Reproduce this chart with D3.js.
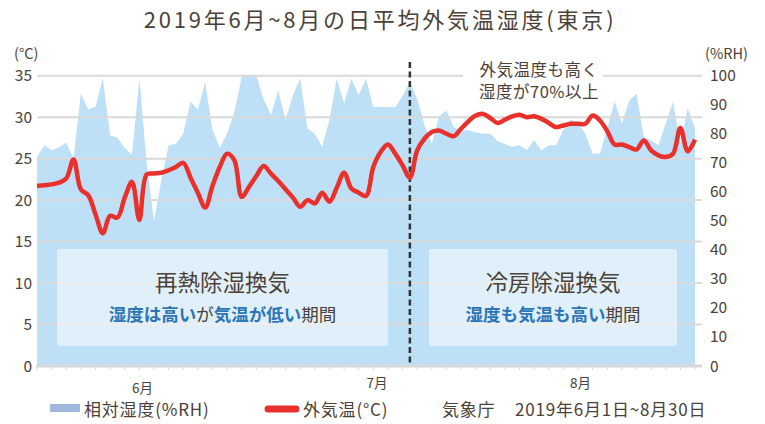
<!DOCTYPE html>
<html>
<head>
<meta charset="utf-8">
<script src="https://cdn.jsdelivr.net/npm/d3@7"></script>
<style>
body { margin: 0; background: #fff; }
text { font-family: "Noto Sans CJK JP", "Noto Sans", sans-serif; fill: #4b4139; }
</style>
</head>
<body>
<script>
"use strict";

// daily mean values, 2019-06-01 .. 2019-08-30 (Tokyo)
var temperature = [
    21.7, 21.8, 21.9, 22.1, 22.6, 24.9, 21.3, 20.6, 18.3, 16.0,
    18.1, 17.9, 20.3, 22.2, 17.6, 23.1, 23.2, 23.3, 23.6, 24.0,
    24.5, 22.7, 20.9, 19.1, 21.7, 24.0, 25.6, 24.8, 20.4, 21.6,
    22.9, 24.1, 23.2, 22.3, 21.3, 20.3, 19.2, 20.0, 19.6, 20.9,
    19.8, 21.5, 23.3, 21.4, 20.9, 20.5, 24.0, 25.8, 26.7, 25.6,
    24.2, 22.7, 26.0, 27.4, 28.2, 28.4, 28.0, 27.7, 28.6, 29.5,
    30.2, 30.4, 29.9, 29.3, 29.7, 30.1, 30.3, 30.0, 30.1, 29.8,
    29.3, 28.8, 29.0, 29.2, 29.2, 29.2, 30.2, 29.6, 28.3, 26.7,
    26.7, 26.4, 26.1, 27.2, 26.0, 25.4, 25.2, 25.6, 28.7, 25.9,
    27.3
];
var humidity = [
    72, 76, 74.3, 75.3, 77, 71.5, 93.8, 88.4, 89.2, 99.2,
    79.5, 78.6, 75.1, 72.8, 99, 70, 50, 64, 76, 76.6,
    80, 91, 88.3, 97.8, 81.5, 75.2, 80, 87.5, 99.6, 100,
    100, 92, 86.4, 95, 84.7, 93.3, 99, 81.8, 80, 75.5,
    84.7, 99, 90.4, 99, 93.3, 99, 89.2, 89.2, 89.2, 89.2,
    93, 98, 92, 83, 76.6, 86, 88, 82.3, 81.2, 81.2,
    80.5, 80, 80, 77.5, 76.5, 75.5, 76, 74.3, 77.8, 74.3,
    76, 76, 81.3, 85, 83.5, 80, 73.2, 73.2, 81.8, 91.2,
    83.5, 91.5, 93.8, 78.9, 77.8, 76, 83.5, 91, 76.6, 88.8,
    82
];
var tempTicks = [0, 5, 10, 15, 20, 25, 30, 35];
var humTicks = [0, 10, 20, 30, 40, 50, 60, 70, 80, 90, 100];
var monthLabels = ["6月", "7月", "8月"];
var monthLabelDates = ["2019-06-15T10:00", "2019-07-17T12:00", "2019-08-14T08:00"];
var rainyEndDate = "2019-07-22";

var startDate = new Date(2019, 5, 1);
var dates = d3.timeDay.range(startDate, new Date(2019, 7, 31));

var width = 765, height = 424;
var plot = {left: 37, right: 695, gridRight: 702, top: 75.7, bottom: 366};

var svg = d3.select("body").append("svg")
    .attr("width", width)
    .attr("height", height);

var parse = d3.isoParse;
var x = d3.scaleTime()
    .domain([dates[0], dates[dates.length - 1]])
    .range([plot.left, plot.right]);
var yT = d3.scaleLinear().domain([0, 35]).range([plot.bottom, plot.top]);
var yH = d3.scaleLinear().domain([0, 100]).range([plot.bottom, plot.top]);

// humidity area (secondary axis)
var area = d3.area()
    .x(function(d, i) { return x(dates[i]); })
    .y0(yH(0))
    .y1(function(d) { return yH(Math.min(d, 100)); });
svg.append("path")
    .datum(humidity)
    .attr("d", area)
    .attr("fill", "#bee0f7");

// gridlines
svg.append("g").selectAll("line")
    .data(tempTicks.slice(1))
    .enter().append("line")
    .attr("x1", plot.left).attr("x2", plot.gridRight)
    .attr("y1", function(d) { return yT(d); })
    .attr("y2", function(d) { return yT(d); })
    .attr("stroke", "#d9d9d9")
    .attr("stroke-width", 2);

// x axis line and small ticks every 2 days
svg.append("line")
    .attr("x1", plot.left - 1).attr("x2", plot.gridRight)
    .attr("y1", yT(0)).attr("y2", yT(0))
    .attr("stroke", "#d9d9d9")
    .attr("stroke-width", 3);
svg.append("g").selectAll("line")
    .data(dates.filter(function(d, i) { return i % 2 === 0; }))
    .enter().append("line")
    .attr("x1", function(d) { return x(d); })
    .attr("x2", function(d) { return x(d); })
    .attr("y1", yT(0) + 1).attr("y2", yT(0) + 4)
    .attr("stroke", "#d9d9d9")
    .attr("stroke-width", 1);

// month labels
svg.append("g").selectAll("text")
    .data(monthLabels)
    .enter().append("text")
    .attr("x", function(d, i) { return x(parse(monthLabelDates[i])); })
    .attr("y", function(d, i) { return i === 0 ? 393 : 388; })
    .attr("text-anchor", "middle")
    .attr("font-size", 13.5)
    .text(function(d) { return d; });

// period boxes
var boxes = [
    {x0: 57, x1: 388, title: "再熱除湿換気",
     parts: [["湿度は高い", true], ["が", false], ["気温が低い", true], ["期間", false]]},
    {x0: 429, x1: 677, title: "冷房除湿換気",
     parts: [["湿度も気温も高い", true], ["期間", false]]}
];
boxes.forEach(function(b) {
    svg.append("rect")
        .attr("x", b.x0).attr("y", 249)
        .attr("width", b.x1 - b.x0).attr("height", 97)
        .attr("rx", 2)
        .attr("fill", "#fff")
        .attr("fill-opacity", 0.52);
    var cx = (b.x0 + b.x1) / 2;
    svg.append("text")
        .attr("x", cx).attr("y", 291)
        .attr("text-anchor", "middle")
        .attr("font-size", 22.5)
        .text(b.title);
    var t = svg.append("text")
        .attr("x", cx).attr("y", 321)
        .attr("text-anchor", "middle")
        .attr("font-size", 17.5);
    b.parts.forEach(function(p) {
        t.append("tspan")
            .attr("font-weight", p[1] ? "bold" : "normal")
            .style("fill", p[1] ? "#2e75b6" : "#4b4139")
            .text(p[0]);
    });
});

// end of rainy season
svg.append("line")
    .attr("x1", x(parse(rainyEndDate))).attr("x2", x(parse(rainyEndDate)))
    .attr("y1", 62).attr("y2", yT(0))
    .attr("stroke", "#333")
    .attr("stroke-width", 2.5)
    .attr("stroke-dasharray", "6,3.5");

// annotation top right
svg.append("rect")
    .attr("x", 463).attr("y", 58)
    .attr("width", 140).attr("height", 44)
    .attr("fill", "#fff");
svg.append("text")
    .attr("x", 539).attr("y", 76)
    .attr("text-anchor", "middle")
    .attr("font-size", 16.5)
    .attr("letter-spacing", 0.5)
    .text("外気温度も高く");
svg.append("text")
    .attr("x", 539).attr("y", 98)
    .attr("text-anchor", "middle")
    .attr("font-size", 16.5)
    .attr("letter-spacing", 0.5)
    .text("湿度が70%以上");

// temperature line
var line = d3.line()
    .x(function(d, i) { return x(dates[i]); })
    .y(function(d) { return yT(d); })
    .curve(d3.curveCatmullRom.alpha(0.5));
svg.append("path")
    .datum(temperature)
    .attr("d", line)
    .attr("fill", "none")
    .attr("stroke", "#e8302d")
    .attr("stroke-width", 4.5)
    .attr("stroke-linejoin", "round");

// left axis labels
svg.append("g").selectAll("text")
    .data(tempTicks)
    .enter().append("text")
    .attr("x", 32)
    .attr("y", function(d) { return yT(d) + 5.5; })
    .attr("text-anchor", "end")
    .attr("font-size", 15.5)
    .text(function(d) { return d; });
svg.append("text")
    .attr("x", 14).attr("y", 59)
    .attr("font-size", 14.5)
    .text("(°C)");

// right axis labels
svg.append("g").selectAll("text")
    .data(humTicks)
    .enter().append("text")
    .attr("x", 710)
    .attr("y", function(d) { return yH(d) + 5.5; })
    .attr("font-size", 15.5)
    .text(function(d) { return d; });
svg.append("text")
    .attr("x", 705).attr("y", 59)
    .attr("font-size", 14.5)
    .text("(%RH)");

// title
svg.append("text")
    .attr("x", 380).attr("y", 28)
    .attr("text-anchor", "middle")
    .attr("font-size", 22)
    .attr("letter-spacing", 2.8)
    .text("2019年6月~8月の日平均外気温湿度(東京)");

// legend
svg.append("rect")
    .attr("x", 50).attr("y", 404)
    .attr("width", 30).attr("height", 8)
    .attr("fill", "#9fb9dd");
svg.append("text")
    .attr("x", 84).attr("y", 416)
    .attr("font-size", 17)
    .attr("letter-spacing", 0.8)
    .text("相対湿度(%RH)");
svg.append("line")
    .attr("x1", 268).attr("x2", 296)
    .attr("y1", 409).attr("y2", 409)
    .attr("stroke", "#e8302d")
    .attr("stroke-width", 7)
    .attr("stroke-linecap", "round");
svg.append("text")
    .attr("x", 303).attr("y", 416)
    .attr("font-size", 17)
    .attr("letter-spacing", 0.8)
    .text("外気温(°C)");
svg.append("text")
    .attr("x", 442).attr("y", 416)
    .attr("font-size", 17)
    .attr("letter-spacing", 0.8)
    .text("気象庁");
svg.append("text")
    .attr("x", 515).attr("y", 416)
    .attr("font-size", 17)
    .attr("letter-spacing", 0.8)
    .text("2019年6月1日~8月30日");
</script>
</body>
</html>
